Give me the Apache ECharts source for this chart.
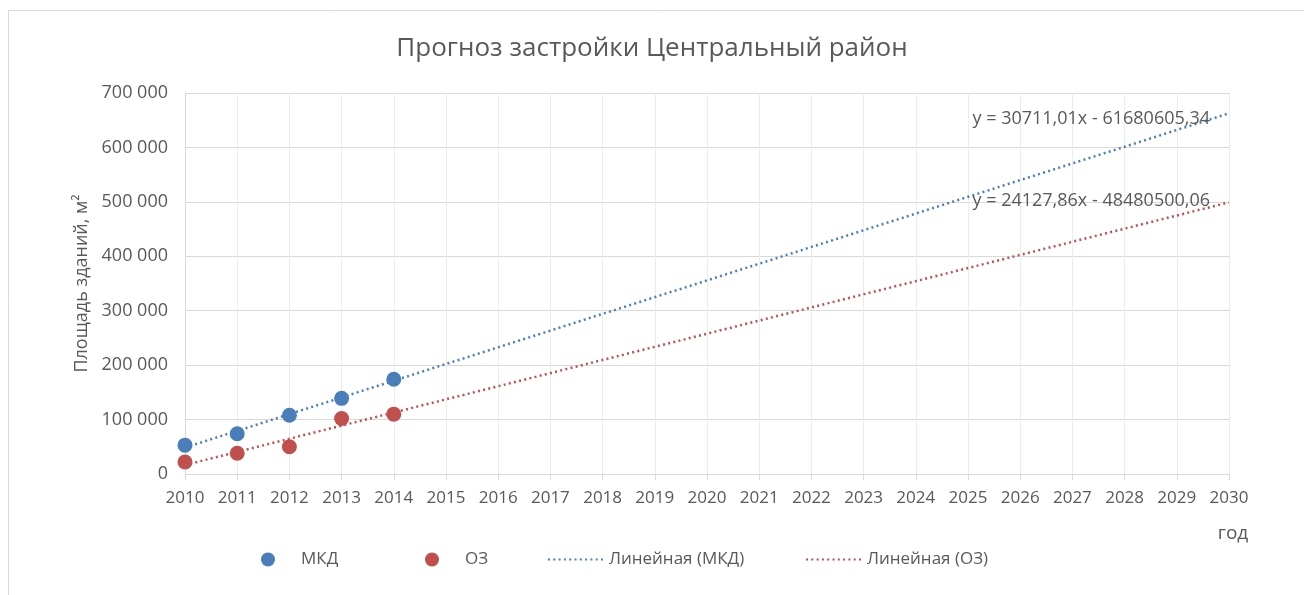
<!DOCTYPE html>
<html>
<head>
<meta charset="utf-8">
<title>Прогноз застройки Центральный район</title>
<script src="https://cdn.jsdelivr.net/npm/echarts@6/dist/echarts.min.js"></script>
<style>
  html, body { margin: 0; padding: 0; background: #fff; }
  #chart { width: 1304px; height: 595px; }
</style>
</head>
<body>
<div id="chart"></div>
<script>
// годы и значения
var years = [2010, 2011, 2012, 2013, 2014];
var mkdValues = [53000, 74000, 108000, 139000, 174000];
var ozValues = [22000, 38000, 50000, 102000, 110000];

// линии тренда: концы на 2010 и 2030
var trendYears = [2010, 2030];
var mkdTrend = [48525, 662745];
var ozTrend = [16499, 499056];

var mkdEquation = 'y = 30711,01x - 61680605,34';
var ozEquation = 'y = 24127,86x - 48480500,06';

var legendNames = ['МКД', 'ОЗ', 'Линейная (МКД)', 'Линейная (ОЗ)'];
var legendLeft = [261, 425, 547, 805]; // начало значка

var textColor = '#595959';
var gridColor = '#d9d9d9';
var font = 'Open Sans';

function pairs(xs, ys) {
  var res = [];
  for (var i = 0; i < xs.length; i++) {
    res.push([xs[i], ys[i]]);
  }
  return res;
}

// отдельная легенда на каждый пункт, чтобы поставить как в оригинале
function makeLegends() {
  var list = [];
  for (var i = 0; i < legendNames.length; i++) {
    var item = { name: legendNames[i] };
    if (i < 2) {
      item.icon = 'circle';
    } else {
      item.itemStyle = { opacity: 0 }; // без кружка на линии
    }
    list.push({
      left: legendLeft[i],
      top: 551,
      padding: 0,
      itemWidth: 56,
      itemHeight: 14,
      selectedMode: false,
      textStyle: { color: textColor, fontSize: 17, fontFamily: font },
      data: [item]
    });
  }
  return list;
}

var chart = echarts.init(document.getElementById('chart'));

var option = {
  backgroundColor: '#fff',
  textStyle: { fontFamily: font },
  title: {
    text: 'Прогноз застройки Центральный район',
    left: 'center',
    top: 31,
    textStyle: { color: textColor, fontSize: 26, fontWeight: 'normal', fontFamily: font }
  },
  grid: { left: 185, right: 75, top: 93, bottom: 121, containLabel: false },
  legend: makeLegends(),
  xAxis: {
    type: 'value',
    min: 2010,
    max: 2030,
    interval: 1,
    name: 'год',
    nameLocation: 'end',
    nameGap: 0,
    nameTextStyle: { color: textColor, fontSize: 19, padding: [50, 0, 0, 8], align: 'center', verticalAlign: 'top' },
    axisLine: { lineStyle: { color: gridColor, width: 1 } },
    axisTick: { show: true, length: 6, lineStyle: { color: gridColor } },
    axisLabel: { color: textColor, fontSize: 17, margin: 16, formatter: function (v) { return String(v); } },
    splitLine: { show: true, lineStyle: { color: '#ececec' } }
  },
  yAxis: {
    type: 'value',
    min: 0,
    max: 700000,
    interval: 100000,
    name: 'Площадь зданий, м²',
    nameLocation: 'middle',
    nameGap: 86,
    nameRotate: 90,
    nameTextStyle: { color: textColor, fontSize: 18 },
    axisLine: { show: true, lineStyle: { color: gridColor } },
    axisTick: { show: false },
    axisLabel: {
      color: textColor,
      fontSize: 18,
      margin: 17,
      formatter: function (v) { return String(v).replace(/\B(?=(\d{3})+(?!\d))/g, ' '); }
    },
    splitLine: { lineStyle: { color: gridColor } }
  },
  series: [
    {
      name: 'Линейная (МКД)',
      type: 'line',
      data: pairs(trendYears, mkdTrend),
      symbol: 'none',
      lineStyle: { color: '#4a7ebb', width: 2.5, type: [2, 3.3] },
      itemStyle: { color: '#4a7ebb' },
      silent: true,
      z: 2
    },
    {
      name: 'Линейная (ОЗ)',
      type: 'line',
      data: pairs(trendYears, ozTrend),
      symbol: 'none',
      lineStyle: { color: '#c0504d', width: 2.5, type: [2, 3.3] },
      itemStyle: { color: '#c0504d' },
      silent: true,
      z: 2
    },
    {
      name: 'МКД',
      type: 'scatter',
      data: pairs(years, mkdValues),
      symbolSize: 15,
      itemStyle: { color: '#4a7ebb', opacity: 1 },
      z: 3
    },
    {
      name: 'ОЗ',
      type: 'scatter',
      data: pairs(years, ozValues),
      symbolSize: 15,
      itemStyle: { color: '#c0504d', opacity: 1 },
      z: 3
    }
  ],
  graphic: [
    {
      type: 'rect',
      silent: true,
      shape: { x: 8.5, y: 10.5, width: 1400, height: 700 },
      style: { fill: 'none', stroke: '#d9d9d9', lineWidth: 1 }
    },
    {
      type: 'text',
      right: 94,
      top: 110,
      style: { text: mkdEquation, fill: textColor, font: '18px "Open Sans"' },
      z: 10
    },
    {
      type: 'text',
      right: 94,
      top: 192,
      style: { text: ozEquation, fill: textColor, font: '18px "Open Sans"' },
      z: 10
    }
  ]
};

chart.setOption(option);
</script>
</body>
</html>
